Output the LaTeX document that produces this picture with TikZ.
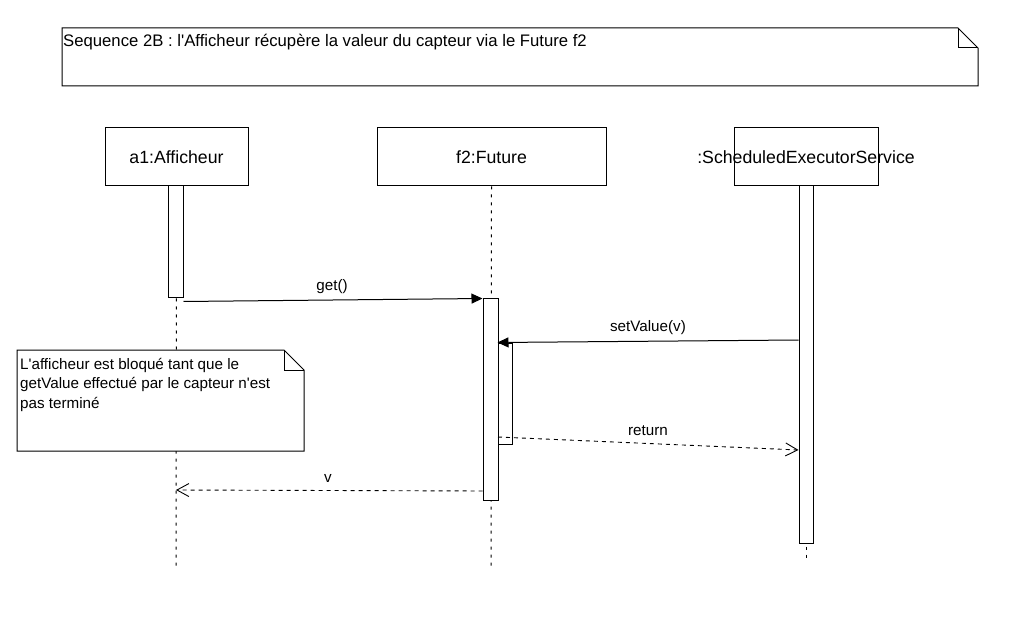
\documentclass[tikz,border=0pt]{standalone}
\usepackage{fontspec}
\setmainfont{Liberation Sans}
\usetikzlibrary{arrows.meta}

\begin{document}
\begin{tikzpicture}[x=1pt,y=-1pt]
              \tikzset{every node/.style={inner sep=0pt, font=\fontsize{15.2}{19.5}\selectfont},
                head/.style={draw, line width=1pt, minimum height=58pt},
                headtext/.style={font=\fontsize{17.7}{20}\selectfont},
                act/.style={draw, fill=white, line width=1pt},
                life/.style={line width=1pt, dash pattern=on 3pt off 5pt},
                call/.style={line width=1pt, -{Triangle[length=11pt,width=10pt]}},
                reply/.style={line width=0.9pt, dash pattern=on 4pt off 4pt, -{Straight Barb[length=12pt,width=13pt]}},
                note/.style={line width=1pt}}
              \useasboundingbox (0,0) rectangle (1012,636);
              % title note
              \draw [note] (62,28) -- (958,28) -- (978,48) -- (978,86) -- (62,86) -- cycle;
              \draw [note] (958,28) -- (958,48) -- (978,48);
              \node [anchor=west, font=\fontsize{16.7}{19}\selectfont] (title) at (63,42) {Sequence 2B : l\textquotesingle Afficheur récupère la valeur du capteur via le Future f2};
              % heads
              \node [head, minimum width=143pt] (a1) at (176.5,157) {};
              \node [head, minimum width=229pt] (f2) at (491.5,157) {};
              \node [head, minimum width=144pt] (ses) at (806,157) {};
              \node [headtext] (a1name) at (a1.center) {a1:Afficheur};
              \node [headtext] (f2name) at (f2.center) {f2:Future};
              \node [headtext] (sesname) at (ses.center) {:ScheduledExecutorService};
              % lifelines
              \coordinate (a1end) at (176,570);
              \coordinate (f2end) at (491,570);
              \coordinate (sesend) at (806,560);
              \draw [life] (a1.south) -- (a1end);
              \draw [life] (f2.south) -- (f2end);
              \draw [life] (ses.south) -- (sesend);
              % activations
              \node [act, minimum width=15pt, minimum height=112pt] (a1act) at (175.5,242) {};
              \node [act, minimum width=15pt, minimum height=201pt] (f2act) at (490.5,399.5) {};
              \node [act, minimum width=14pt, minimum height=101pt] (f2sub) at (505,393.5) {};
              \node [act, minimum width=14pt, minimum height=357pt] (sesact) at (806,364.5) {};
              % messages
              \draw [call] ([yshift=-3pt]a1act.south east) -- (f2act.north west);
              \node (get) at (332,287) {get()};
              \draw [call] (sesact.west |- 0,340) -- (f2sub.north west);
              \node (setv) at (648,328) {setValue(v)};
              \coordinate (ret0) at (498,437);
              \draw [reply] (ret0) -- (sesact.west |- 0,450);
              \node (ret) at (648,431) {return};
              \coordinate (v1) at (176,490);
              \draw [reply] (f2act.west |- 0,491) -- (v1);
              \node (v) at (328,478) {v};
              % blocking note
              \draw [note, fill=white] (17,350) -- (284,350) -- (304,370) -- (304,451) -- (17,451) -- cycle;
              \draw [note] (284,350) -- (284,370) -- (304,370);
              \node [anchor=north west, align=left] (bloque) at (20,358) {L\textquotesingle afficheur est bloqué tant que le\\getValue effectué par le capteur n\textquotesingle est\\pas terminé};
            \end{tikzpicture}
\end{document}
